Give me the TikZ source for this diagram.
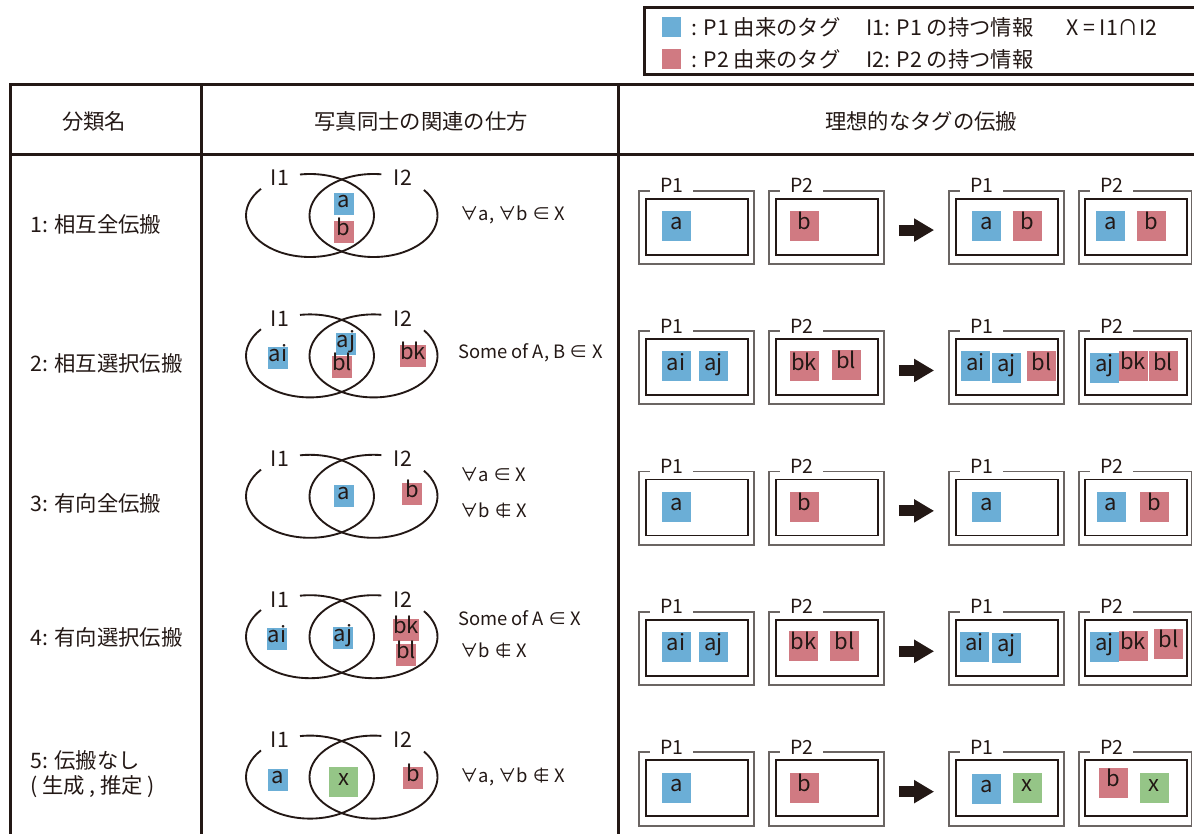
\documentclass[tikz,border=0pt]{standalone}
\usepackage{fontspec}
\setmainfont{Noto Sans CJK JP}
\usetikzlibrary{arrows.meta,calc}
\definecolor{ink}{HTML}{231815}
\definecolor{tblue}{HTML}{6BAED6}
\definecolor{tred}{HTML}{D07A82}
\definecolor{tgreen}{HTML}{95C587}
\definecolor{boxgray}{HTML}{6B6563}
\newcommand\fsz[1]{\fontsize{#1}{#1}\selectfont}
\begin{document}
\begin{tikzpicture}[x=0.75pt,y=-0.75pt,
  tbl/.style={draw=ink, line width=2.25pt},
  ell/.style={draw=ink, line width=1.4pt},
  txt/.style={text=ink, inner sep=0pt},
  hdr/.style={txt, font=\fsz{16}},
  rowlab/.style={txt, font=\fsz{16}, anchor=west},
  lgd/.style={txt, font=\fsz{16}, anchor=west},
  ilab/.style={txt, font=\fsz{16}},
  frm/.style={txt, font=\fsz{13.8}, anchor=west},
  tagbase/.style={inner sep=0pt, text=ink, font=\fsz{16.5}, text height=0.75em, text depth=0.2em, minimum width=21.75pt, minimum height=22.5pt},
  tb/.style={tagbase, fill=tblue},
  tr/.style={tagbase, fill=tred},
  tg/.style={tagbase, fill=tgreen},
  vt/.style={minimum width=15pt, minimum height=16.5pt},
  outerbox/.style={draw=boxgray, line width=1.4pt, minimum width=86.25pt, minimum height=55pt, inner sep=0pt},
  innerbox/.style={draw=ink, line width=1.3pt, minimum width=76.5pt, minimum height=42pt, inner sep=0pt},
  plab/.style={txt, fill=white, inner xsep=7.5pt, inner ysep=2.5pt, font=\fsz{14.6}, anchor=base},
  bigarrow/.style={draw=ink, line width=8.25pt, -{Triangle[length=15pt,width=16.5pt]}},
  lsq/.style={minimum width=14.25pt, minimum height=14.6pt, inner sep=0pt},
]
\useasboundingbox (0,0) rectangle (1194,834);
\fill[white] (0,0) rectangle (1194,834);
\clip (0,0) rectangle (1194,834);

% legend
\draw[tbl] (1210,8) -- (644,8) -- (644,75) -- (1210,75);
\node[lsq, fill=tblue] (lsqb) at (671,27) {};
\node[lsq, fill=tred] (lsqr) at (671,59) {};
\node[lgd] (lg1) at (691,27) {: P1 由来のタグ};
\node[lgd] (lg2) at (866,27) {I1: P1 の持つ情報};
\node[lgd] (lg3) at (1066,27) {X = I1∩I2};
\node[lgd] (lg4) at (691,59) {: P2 由来のタグ};
\node[lgd] (lg5) at (866,59) {I2: P2 の持つ情報};

% table
\draw[tbl] (1210,85) -- (10,85) -- (10,850);
\draw[tbl] (10,155) -- (1210,155);
\draw[tbl] (201,85) -- (201,850);
\draw[tbl] (618,85) -- (618,850);
\node[hdr] (h1) at (94,121) {分類名};
\node[hdr] (h2) at (421,121) {写真同士の関連の仕方};
\node[hdr] (h3) at (921,121) {理想的なタグの伝搬};

% row labels
\node[rowlab] (n1) at (30,224) {1: 相互全伝搬};
\node[rowlab] (n2) at (30,363) {2: 相互選択伝搬};
\node[rowlab] (n3) at (30,503) {3: 有向全伝搬};
\node[rowlab] (n4) at (30,637) {4: 有向選択伝搬};
\node[rowlab] (n5) at (30,760) {5: 伝搬なし};
\node[rowlab] (n5b) at (30,787) {( 生成 , 推定 )};

% venn diagrams
\foreach \k in {0,...,4}{
  \pgfmathsetmacro\cy{215.5+140.4*\k}
  \draw[ell] ($(310,\cy)+(-140:64 and 41.5)$) arc[start angle=-140, end angle=-459, x radius=64, y radius=41.5];
  \draw[ell] ($(373.5,\cy)+(-83:64 and 41.5)$) arc[start angle=-83, end angle=-398, x radius=64, y radius=41.5];
  \node[ilab] (ia\k) at (280,\cy-37.5) {I1};
  \node[ilab] (ib\k) at (403,\cy-37.5) {I2};
}

% venn tags
\node[tb,vt] (v0a) at (343.5,204) {a};
\node[tr,vt] (v0b) at (343.5,232) {b};
\node[tb,vt] (v1ai) at (278,358) {ai};
\node[tb,vt] (v1aj) at (346,344) {aj};
\node[tr,vt] (v1bl) at (342,366.7) {bl};
\node[tr,vt] (v1bk) at (413,355.5) {bk};
\node[tb,vt] (v2a) at (343.5,496) {a};
\node[tr,vt] (v2b) at (412,494) {b};
\node[tb,vt] (v3ai) at (277,638.5) {ai};
\node[tb,vt] (v3aj) at (343,638) {aj};
\node[tr,vt] (v3bk) at (406,629.5) {bk};
\node[tr,vt] (v3bl) at (406,655) {bl};
\node[tb,vt] (v4a) at (278,780) {a};
\node[tg] (v4x) at (343.5,781.7) {x};
\node[tr,vt] (v4b) at (413,778) {b};

% formulas
\node[frm] (f0) at (460,215) {∀a, ∀b ∈ X};
\node[frm] (f1) at (458,353) {Some of A, B ∈ X};
\node[frm] (f2a) at (460,475) {∀a ∈ X};
\node[frm] (f2b) at (460,510) {∀b ∉ X};
\node[frm] (f3a) at (458,617.7) {Some of A ∈ X};
\node[frm] (f3b) at (460,650) {∀b ∉ X};
\node[frm] (f4) at (460,777) {∀a, ∀b ∉ X};

% photo boxes
\foreach \k in {0,...,4}{
  \foreach \c/\xl/\w/\lab in {a/639/115/P1, b/769/115/P2, c/949/115/P1, d/1079/112.5/P2}{
    \pgfmathsetmacro\yc{227.35+140.4*\k}
    \pgfmathsetmacro\xc{\xl+\w/2}
    \pgfmathsetmacro\wpt{\w*0.75}
    \node[outerbox, minimum width=\wpt pt] (o\k\c) at (\xc,\yc) {};
    \node[innerbox] (i\k\c) at (\xc+0.5,\yc-0.6) {};
    \node[plab] (l\k\c) at (\xl+32.7,\yc-34.65) {\lab};
  }
  \draw[bigarrow] ($(o\k b.east)+(14,2.7)$) -- ($(o\k c.west)+(-14,2.7)$);
}

% row 1 tags
\node[tb] (t0a) at (676.3,226) {a};
\node[tr] (t0b) at (804.5,226) {b};
\node[tb] (t0c) at (986.5,226) {a};
\node[tr] (t0d) at (1027.5,226) {b};
\node[tb] (t0e) at (1110.5,226) {a};
\node[tr] (t0f) at (1151.5,226) {b};
% row 2 tags
\node[tb] (t1a) at (676,366.4) {ai};
\node[tb] (t1b) at (713.5,366.4) {aj};
\node[tr] (t1c) at (804,366.4) {bk};
\node[tr] (t1d) at (846,365) {bl};
\node[tb] (t1e) at (975.5,366.4) {ai};
\node[tb] (t1f) at (1006.5,368) {aj};
\node[tr] (t1g) at (1041.5,366.4) {bl};
\node[tb] (t1h) at (1104.5,368) {aj};
\node[tr] (t1i) at (1133,365.5) {bk};
\node[tr] (t1j) at (1163,366.4) {bl};
% row 3 tags
\node[tb] (t2a) at (676.3,506.8) {a};
\node[tr] (t2b) at (804.5,506.8) {b};
\node[tb] (t2c) at (986.5,506.8) {a};
\node[tb] (t2d) at (1111,506.8) {a};
\node[tr] (t2e) at (1154,506.8) {b};
% row 4 tags
\node[tb] (t3a) at (676,647.2) {ai};
\node[tb] (t3b) at (713.5,647.2) {aj};
\node[tr] (t3c) at (803.5,645.7) {bk};
\node[tr] (t3d) at (844.5,645.7) {bl};
\node[tb] (t3e) at (974.5,647.2) {ai};
\node[tb] (t3f) at (1006.5,648.2) {aj};
\node[tb] (t3g) at (1104.5,647.2) {aj};
\node[tr] (t3h) at (1133,645.7) {bk};
\node[tr] (t3i) at (1168.5,644) {bl};
% row 5 tags
\node[tb] (t4a) at (676.3,787.6) {a};
\node[tr] (t4b) at (804,787.6) {b};
\node[tb] (t4c) at (986.5,789) {a};
\node[tg] (t4d) at (1027,787.6) {x};
\node[tr] (t4e) at (1113.5,783) {b};
\node[tg] (t4f) at (1154,787.6) {x};
\end{tikzpicture}
\end{document}
